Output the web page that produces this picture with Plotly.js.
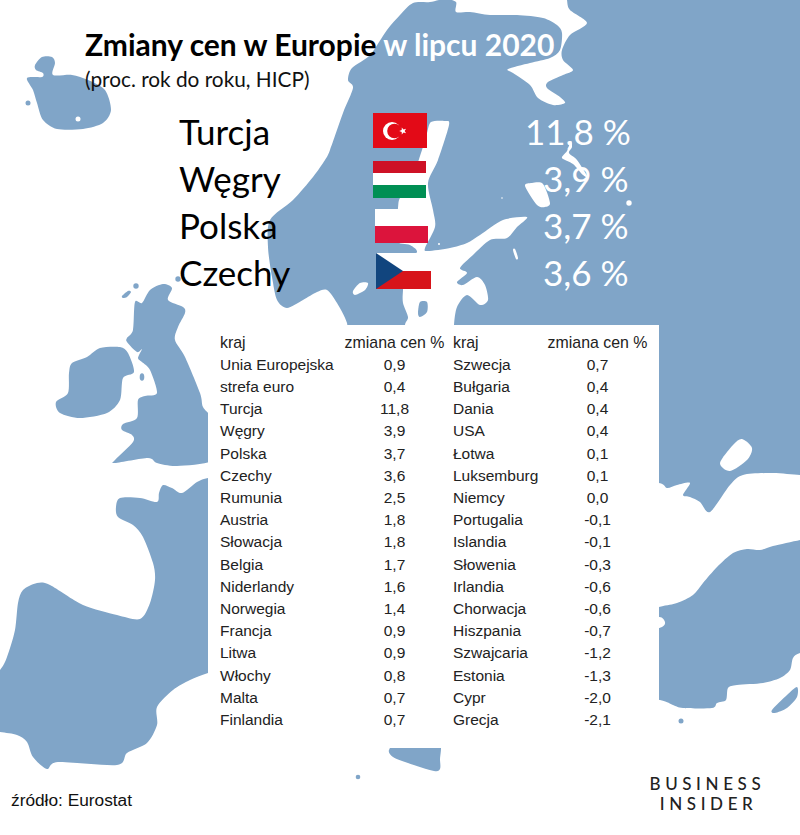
<!DOCTYPE html>
<html><head><meta charset="utf-8">
<script src="https://cdn.plot.ly/plotly-3.0.1.min.js"></script>
<style>html,body{margin:0;padding:0;background:#fff}#c{width:800px;height:835px}</style>
</head><body><div id="c"></div>
<script>
// ---- data ----
const topCountries = ['Turcja','Węgry','Polska','Czechy'];
const topValues = ['11,8 %','3,9 %','3,7 %','3,6 %'];
const headerName = 'kraj';
const headerValue = 'zmiana cen %';
const leftNames = ['Unia Europejska','strefa euro','Turcja','Węgry','Polska','Czechy','Rumunia','Austria','Słowacja','Belgia','Niderlandy','Norwegia','Francja','Litwa','Włochy','Malta','Finlandia'];
const leftValues = ['0,9','0,4','11,8','3,9','3,7','3,6','2,5','1,8','1,8','1,7','1,6','1,4','0,9','0,9','0,8','0,7','0,7'];
const rightNames = ['Szwecja','Bułgaria','Dania','USA','Łotwa','Luksemburg','Niemcy','Portugalia','Islandia','Słowenia','Irlandia','Chorwacja','Hiszpania','Szwajcaria','Estonia','Cypr','Grecja'];
const rightValues = ['0,7','0,4','0,4','0,4','0,1','0,1','0,0','-0,1','-0,1','-0,3','-0,6','-0,6','-0,7','-1,2','-1,3','-2,0','-2,1'];

// ---- decorative background map outlines (page pixels) ----
const mapMain = [[348,80],[352,68],[370,55],[387,30],[400,15],[413,3],[430,2],[445,-1],[456,2],[456,12],[470,12],[490,15],[517,15],[543,18],[557,25],[562,33],[560,50],[550,58],[530,63],[508,69],[513,73],[530,85],[538,98],[553,105],[565,103],[560,97],[547,88],[548,82],[563,75],[573,70],[563,60],[562,50],[570,35],[587,23],[570,10],[567,0],[565,-20],[820,-20],[820,475],[800,475],[773,473],[743,475],[730,485],[710,512],[700,502],[690,497],[683,495],[690,483],[677,485],[667,488],[659,483],[620,480],[500,420],[454,345],[454,325],[457,307],[467,295],[480,305],[488,300],[485,285],[477,277],[463,285],[457,282],[467,273],[460,268],[473,255],[490,240],[507,238],[517,227],[527,217],[503,220],[480,235],[467,243],[450,248],[428,251],[425,248],[435,227],[433,210],[428,183],[438,160],[449,125],[445,121],[431,122],[427,133],[422,150],[410,185],[400,198],[398,208],[396,240],[410,245],[417,252],[405,262],[403,290],[403,303],[408,317],[405,325],[405,345],[350,345],[347,323],[337,303],[327,290],[317,292],[303,300],[287,308],[277,300],[272,277],[268,247],[270,220],[293,200],[313,177],[325,160],[330,150],[343,113],[353,88]];
const mapAnatolia = [[659,607],[677,603],[693,595],[703,583],[717,567],[733,553],[747,549],[760,550],[773,546],[800,540],[820,535],[820,650],[800,653],[793,658],[790,670],[780,678],[763,683],[737,685],[728,688],[726,700],[717,703],[712,708],[683,708],[673,705],[660,700],[610,690],[610,620]];
const mapFrance = [[230,475],[208,478],[197,482],[182,493],[172,488],[163,485],[159,493],[157,502],[140,498],[120,498],[116,507],[118,517],[133,525],[143,537],[153,563],[155,580],[150,603],[140,619],[117,615],[83,605],[50,585],[37,583],[23,590],[18,603],[15,630],[7,657],[0,670],[-20,690],[-20,730],[0,732],[17,735],[27,742],[33,757],[47,769],[58,762],[117,765],[127,753],[147,743],[157,725],[157,707],[173,690],[190,680],[208,673],[240,665]];
const mapBritain = [[163,284],[172,288],[168,300],[183,307],[185,313],[178,327],[175,340],[185,357],[200,393],[203,407],[212,417],[230,440],[212,461],[177,466],[157,463],[148,458],[115,463],[115,460],[133,442],[132,435],[122,430],[123,424],[137,418],[138,400],[145,396],[157,393],[150,370],[142,362],[138,358],[142,349],[137,352],[127,342],[127,338],[133,330],[135,302],[142,303],[150,290]];
const mapIreland = [[72,363],[87,357],[100,348],[120,347],[128,353],[134,372],[123,378],[120,400],[107,413],[80,418],[60,413],[56,402],[68,393],[69,373]];
const mapIceland = [[35,65],[42,57],[52,57],[55,63],[53,75],[72,75],[88,80],[105,90],[111,110],[103,123],[83,129],[57,129],[43,120],[37,103],[33,90],[27,78],[42,77],[43,73],[36,70]];
const mapCrete = [[389,750],[393,757],[408,763],[434,771],[440,769],[440,760],[438,740],[400,740]];
const mapCyprus = [[772,710],[787,695],[797,687],[797,697],[787,708],[775,713]];
const mapOrkney = [[122,296],[128,291],[131,292],[127,297],[123,298]];
const lakeAzov = [[720,463],[733,445],[742,439],[752,448],[747,460],[730,471]];
const lakeVanern = [[525,186],[532,183],[543,184],[550,203],[545,207],[537,205]];
const lakeSmall = [[513,250],[515,249],[518,258],[516,259]];
const lakeThin = [[571,141],[572,147],[569,153],[577,160],[587,176],[583,175],[573,164],[562,158],[567,151]];
const lakeCrimea = [[353,291],[360,283],[368,283],[365,290],[355,295]];
const lakeGotland = [[420,302],[427,302],[427,312],[420,317],[418,313]];
const whiteCoast = [[640,625],[659,617],[665,622],[662,627],[645,632]];

function smooth(pts){
  const n=pts.length; let d='M'+pts[0][0]+','+pts[0][1];
  for(let i=0;i<n;i++){
    const p0=pts[(i-1+n)%n],p1=pts[i],p2=pts[(i+1)%n],p3=pts[(i+2)%n];
    const k=0.14;
    d+=' C'+(p1[0]+(p2[0]-p0[0])*k).toFixed(1)+','+(p1[1]+(p2[1]-p0[1])*k).toFixed(1)+' '
        +(p2[0]-(p3[0]-p1[0])*k).toFixed(1)+','+(p2[1]-(p3[1]-p1[1])*k).toFixed(1)+' '+p2[0]+','+p2[1];
  }
  return d+' Z';
}
const BLUE='#80a5c8';
const blob=(pts,c)=>({type:'path',xref:'x',yref:'y',path:smooth(pts),fillcolor:c,line:{width:0},layer:'below'});
const dot=(x,y,rx,ry,c,layer)=>({type:'circle',xref:'x',yref:'y',x0:x-rx,x1:x+rx,y0:y-ry,y1:y+ry,fillcolor:c,line:{width:0},layer:layer||'below'});
const box=(x0,y0,x1,y1,c,layer)=>({type:'rect',xref:'x',yref:'y',x0,x1,y0,y1,fillcolor:c,line:{width:0},layer:layer||'below'});
const poly=(d,c)=>({type:'path',xref:'x',yref:'y',path:d,fillcolor:c,line:{width:0},layer:'above'});

function starPath(cx,cy,r){
  let d='';
  for(let i=0;i<10;i++){
    const a=-Math.PI+ i*Math.PI/5, R=i%2?r*0.42:r;
    d+=(i?'L':'M')+(cx+R*Math.cos(a)).toFixed(1)+','+(cy+R*Math.sin(a)).toFixed(1)+' ';
  }
  return d+'Z';
}

const shapes=[
  blob(mapMain,BLUE),blob(mapAnatolia,BLUE),blob(mapFrance,BLUE),blob(mapBritain,BLUE),
  blob(mapIreland,BLUE),blob(mapIceland,BLUE),blob(mapCrete,BLUE),blob(mapCyprus,BLUE),blob(mapOrkney,BLUE),
  blob(lakeAzov,'#fff'),blob(lakeVanern,'#fff'),blob(lakeSmall,'#fff'),blob(lakeThin,'#fff'),
  blob(lakeCrimea,'#fff'),blob(lakeGotland,BLUE),blob(whiteCoast,'#fff'),
  dot(78,119,2.5,2.5,'#fff'),dot(28,103,2.5,2.5,BLUE),dot(136,286,2.7,2.7,BLUE),dot(178,279,2.7,2.7,BLUE),
  dot(142,377,2.3,3.8,BLUE),dot(681,721,2.5,2.5,BLUE),dot(358,777,2.3,2.3,BLUE),
  dot(629,203,2.7,2.7,'#fff'),dot(502,198,.8,.8,'#fff'),dot(439,244,1,1,'#fff'),
  box(208,325,659,748,'#fff'),
  // flags
  box(373,113,427,148,'#e30a17','above'),
  dot(392,131,9,9,'#fff','above'),dot(394.5,131,7.3,7.3,'#e30a17','above'),poly(starPath(403,131,3.8),'#fff'),
  box(373,161,426,173,'#ce1126','above'),box(373,173,426,185,'#ffffff','above'),box(373,185,426,198,'#008f54','above'),
  box(375,209,428,226,'#ffffff','above'),box(375,226,428,243,'#dc143c','above'),
  box(376,253,431,271,'#ffffff','above'),box(376,271,431,289,'#d7141a','above'),
  poly('M376,253 L403,271 L376,289 Z','#11457e')
];

const ann=(text,x,y,xa,size,color,family)=>({text,x,y,xref:'x',yref:'y',xanchor:xa,yanchor:'middle',showarrow:false,font:{size,color,family},align:xa});
const annotations=[
  ann('<b>Zmiany cen w Europie <span style="color:#fff">w lipcu 2020</span></b>',83,44,'left',30,'#000','Lato'),
  ann('(proc. rok do roku, HICP)',83,78,'left',20.8,'#111','Lato'),
  ann('źródło: Eurostat',9,800,'left',17.3,'#111','Liberation Sans'),
  ann('BUSINESS',707,783,'middle',17,'#222','Lato'),
  ann('INSIDER',708,803,'middle',17,'#222','Lato')
];
topCountries.forEach((c,i)=>annotations.push(ann(c,177,[131,178,225,272][i],'left',35,'#000','Lato')));
topValues.forEach((v,i)=>annotations.push(ann(v,[633,631,631,631][i],[131,178,225,272][i],'right',35,'#fff','Lato')));

const cellFont={family:'Liberation Sans',size:15.5,color:'#222'};
const headFont={family:'Liberation Sans',size:15.9,color:'#222'};
const NONE='rgba(0,0,0,0)';
const col=(head,vals,x0,x1,al)=>({
  type:'table',domain:{x:[x0/800,x1/800],y:[1-760/835,1-328/835]},
  header:{values:[head],align:al,height:22.2,font:headFont,fill:{color:NONE},line:{width:0,color:NONE}},
  cells:{values:[vals],align:al,height:22.2,font:cellFont,fill:{color:NONE},line:{width:0,color:NONE}}
});
const traces=[
  {type:'scatter',x:[],y:[],hoverinfo:'skip',showlegend:false},
  col(headerName,leftNames,212,372,'left'),
  col(headerValue,leftValues,330,460,'center'),
  col(headerName,rightNames,445,590,'left'),
  col(headerValue,rightValues,533,663,'center')
];
const layout={width:800,height:835,margin:{l:0,r:0,t:0,b:0},paper_bgcolor:'#fff',plot_bgcolor:'rgba(0,0,0,0)',showlegend:false,
  xaxis:{range:[0,800],visible:false,fixedrange:true},yaxis:{range:[835,0],visible:false,fixedrange:true},shapes,annotations};
Plotly.newPlot('c',traces,layout,{displayModeBar:false,staticPlot:true}).then(()=>{
  document.querySelectorAll('.annotation-text').forEach(t=>{
    if(t.textContent==='BUSINESS'||t.textContent==='INSIDER'){t.style.letterSpacing='4.6px';t.style.fontWeight='500';}
  });
});
</script></body></html>
